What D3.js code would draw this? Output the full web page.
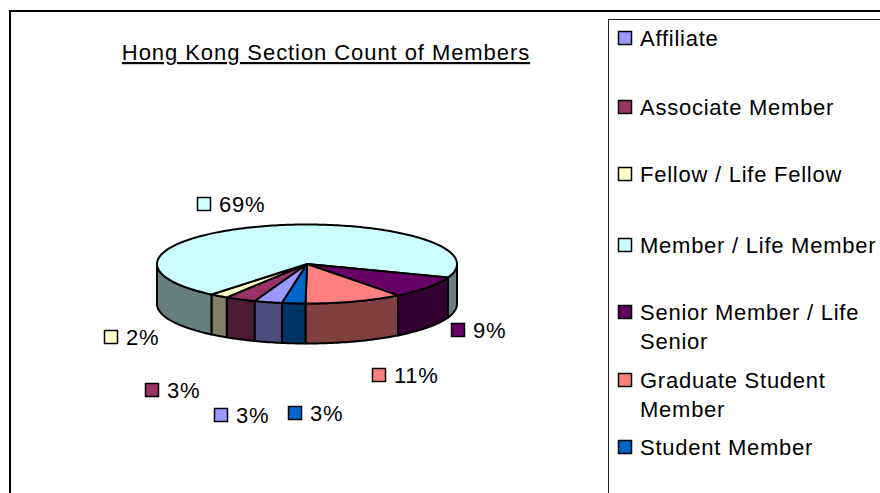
<!DOCTYPE html>
<html><head><meta charset="utf-8">
<script src="https://cdn.jsdelivr.net/npm/d3@7/dist/d3.min.js"></script>
<style>html,body{margin:0;padding:0;background:#fff;overflow:hidden}text{font-family:"Liberation Sans",Arial,sans-serif;fill:#000;font-size:22px;letter-spacing:.75px}</style>
</head><body><svg id="c" width="880" height="493"></svg>
<script>
const categories=["Affiliate","Associate Member","Fellow / Life Fellow","Member / Life Member","Senior Member / Life Senior","Graduate Student Member","Student Member"];
const values=[3.0,3.3,2.0,69.4,9.0,10.5,2.5];
const colors=["#9999ff","#993366","#ffffcc","#ccffff","#660066","#ff8080","#0066cc"];
const wallColors=["#4d4d80","#4d1a33","#808066","#668080","#330033","#804040","#003366"];
const legendLines=[["Affiliate"],["Associate Member"],["Fellow / Life Fellow"],["Member / Life Member"],["Senior Member / Life","Senior"],["Graduate Student","Member"],["Student Member"]];
const legendY=[38,107,174,245,312,380,447];
const labelPos=[[221,415],[152,390],[111,337],[204,204],[458,330],[379,375],[295,413]];
const title="Hong Kong Section Count of Members";

const svg=d3.select("#c");
const cx=307,cy=264,rx=150,ry=39.5,depth=40;
svg.append("rect").attr("x",10).attr("y",11).attr("width",880).attr("height",500).attr("fill","#fff").attr("stroke","#000").attr("stroke-width",2);
svg.append("text").attr("x",326).attr("y",60).attr("text-anchor","middle").attr("text-decoration","underline").style("letter-spacing","0.93px").text(title);

const pie=d3.pie().sort(null).startAngle(189.6*Math.PI/180).endAngle((189.6+360)*Math.PI/180);
const arcs=pie(values);
const px=d3.scaleLinear().domain([-1,1]).range([cx-rx,cx+rx]);
const py=d3.scaleLinear().domain([-1,1]).range([cy-ry,cy+ry]);
const line=d3.line();
function rim(a0,a1){const n=Math.max(2,Math.ceil((a1-a0)/0.02));return d3.range(n+1).map(i=>{const a=a0+(a1-a0)*i/n;return [px(Math.sin(a)),py(-Math.cos(a))];});}
const P=Math.PI;
arcs.forEach((d,i)=>{
  [[P/2,3*P/2],[P/2+2*P,3*P/2+2*P]].forEach(([f0,f1])=>{
    const a0=Math.max(d.startAngle,f0),a1=Math.min(d.endAngle,f1);
    if(a1<=a0)return;
    const top=rim(a0,a1),bot=top.map(p=>[p[0],p[1]+depth]).reverse();
    svg.append("path").attr("d",line(top.concat(bot))+"Z").attr("fill",wallColors[i]).attr("stroke","#000").attr("stroke-width",2).attr("stroke-linejoin","round");
  });
});
arcs.forEach((d,i)=>{
  const pts=[[cx,cy]].concat(rim(d.startAngle,d.endAngle));
  svg.append("path").attr("d",line(pts)+"Z").attr("fill",colors[i]).attr("stroke","#000").attr("stroke-width",2).attr("stroke-linejoin","round");
});
arcs.forEach((d,i)=>{
  const [x,y]=labelPos[i];
  svg.append("rect").attr("x",x-6.5).attr("y",y-6.5).attr("width",13).attr("height",13).attr("fill",colors[i]).attr("stroke","#000").attr("stroke-width",1.5);
  svg.append("text").attr("x",x+15).attr("y",y+8).text(Math.round(values[i])+"%");
});
svg.append("rect").attr("x",608.5).attr("y",19.5).attr("width",300).attr("height",500).attr("fill","none").attr("stroke","#222").attr("stroke-width",1);
categories.forEach((c,i)=>{
  const y=legendY[i];
  svg.append("rect").attr("x",618.5).attr("y",y-6.5).attr("width",13).attr("height",13).attr("fill",colors[i]).attr("stroke","#000").attr("stroke-width",1.5);
  legendLines[i].forEach((t,j)=>svg.append("text").attr("x",640).attr("y",y+8+j*29).text(t));
});
</script></body></html>
